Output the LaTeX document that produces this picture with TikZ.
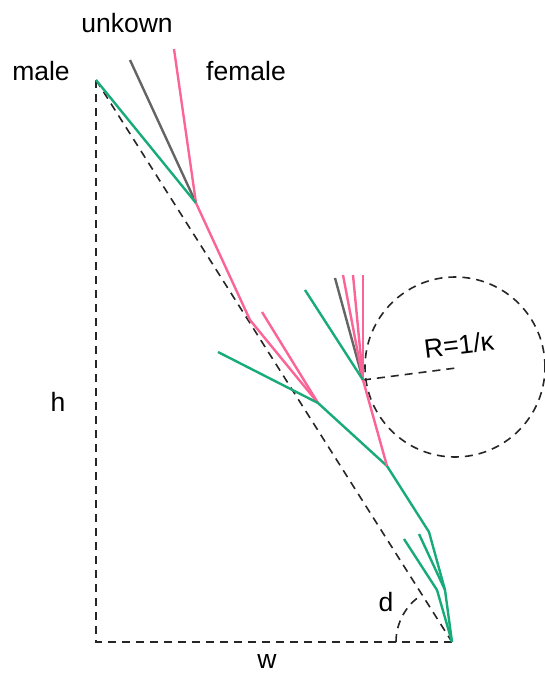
\documentclass[tikz,border=0pt]{standalone}
\usepackage{fontspec}
\setmainfont{Liberation Sans}
\definecolor{treegreen}{RGB}{24,170,122}
\definecolor{treepink}{RGB}{250,100,150}
\definecolor{treegray}{RGB}{100,100,100}
\begin{document}
\begin{tikzpicture}[x=1pt,y=-1pt,
  grn/.style={draw=treegreen,line width=2.4pt,line join=round},
  pnk/.style={draw=treepink,line width=2.4pt,line join=round},
  gry/.style={draw=treegray,line width=2.4pt},
  dsh/.style={draw=black!85,line width=1.6pt,dash pattern=on 8pt off 6pt},
  lbl/.style={font=\fontsize{26.5}{30}\selectfont,inner sep=0pt,anchor=base}]
\useasboundingbox (0,0) rectangle (545,673);
% points
\coordinate (M) at (96,80);
\coordinate (BL) at (96,642);
\coordinate (B) at (452,642);
\coordinate (A) at (196,203);
\coordinate (K) at (250,320);
\coordinate (C) at (318,403);
\coordinate (D) at (387,466);
\coordinate (E) at (363,380);
\coordinate (F) at (429,532);
\coordinate (G) at (445,590);
\coordinate (H) at (437,590);
\coordinate (C0) at (455,367);
\coordinate (RE) at (456,368);
% leaf tips
\coordinate (tg) at (130,60);
\coordinate (tp) at (174,49);
\coordinate (tp2) at (262,312);
\coordinate (tg2) at (218,352);
\coordinate (tg3) at (305,290);
\coordinate (ty3) at (335,278);
\coordinate (tp3) at (343,275);
\coordinate (tp4) at (353,275);
\coordinate (tp5) at (363,275);
\coordinate (tf) at (419,534);
\coordinate (th) at (404,539);
% dashed geometry
\draw[dsh] (M) -- (BL) -- (B);
\draw[dsh] (M) -- (B);
\draw[dsh] (C0) circle[radius=90pt];
\draw[dsh] (E) -- (RE);
\draw[dsh] (B) ++(-56pt,0pt) arc[start angle=180,end angle=122.5,radius=56pt];
% tree
\draw[gry] (tg) -- (A);
\draw[pnk] (tp) -- (A);
\draw[grn] (M) -- (A);
\draw[pnk] (A) -- (K) -- (C);
\draw[pnk] (tp2) -- (C);
\draw[grn] (tg2) -- (C) -- (D);
\draw[gry] (ty3) -- (E);
\draw[pnk] (tp3) -- (E);
\draw[pnk] (tp4) -- (E);
\draw[pnk] (tp5) -- (E);
\draw[grn] (tg3) -- (E);
\draw[pnk] (E) -- (D);
\draw[grn] (D) -- (F) -- (G) -- (B);
\draw[grn] (tf) -- (G);
\draw[grn] (th) -- (H) -- (B);
% labels
\node[lbl] (lmale) at (41,80) {male};
\node[lbl] (lunk) at (127,32) {unkown};
\node[lbl] (lfem) at (246,80) {female};
\node[lbl] (lh) at (58,411) {h};
\node[lbl] (lw) at (267,668) {w};
\node[lbl] (ld) at (386,611) {d};
\node[lbl,rotate=7] (lR) at (460,354) {R=1/κ};
\end{tikzpicture}
\end{document}
